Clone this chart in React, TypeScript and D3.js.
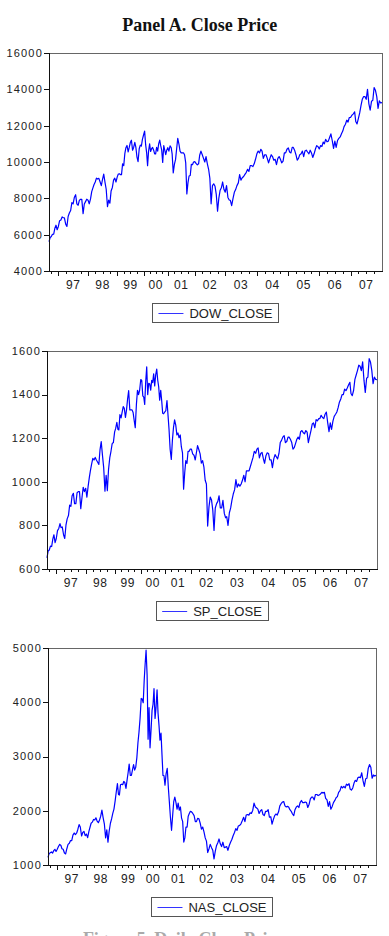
import React from "react";
import * as d3 from "d3";

// trading-day observations per calendar year (1996 is partial, from September)
const sampleYears = [1996, 1997, 1998, 1999, 2000, 2001, 2002, 2003, 2004, 2005, 2006, 2007];
const obsPerYear = [80, 253, 249, 225, 206, 230, 260, 270, 268, 264, 268, 267];
const yearLabels = ["97", "98", "99", "00", "01", "02", "03", "04", "05", "06", "07"];

// closes sampled on the 1st and 16th of each month, Sep 1996 .. Dec 2007, plus the year-end close
const dowClose = [
  5620, 5840, 5900, 6020, 6030, 6350, 6520, 6270,
  6450, 6770, 6810, 6980, 6930, 6930, 6580, 6450, 7000, 7190, 7330, 7770, 7690, 8040, 8200, 7700, 7620, 7890, 7950, 7940, 7160, 7690, 7820, 7950,
  7900, 7700, 7970, 8370, 8550, 8750, 8900, 9110, 9060, 9100, 8900, 8700, 9040, 9330, 8880, 8500, 7540, 7900, 7730, 8400, 8600, 9000, 9110, 8900,
  9180, 9340, 9350, 9300, 9300, 9900, 9800, 10460, 10790, 10910, 10560, 10800, 11070, 11200, 10650, 10800, 11080, 10800, 10270, 10020, 10730, 10930, 10880, 11260,
  11500, 11700, 10940, 10500, 9800, 10600, 11000, 10580, 10730, 10800, 10650, 10450, 10450, 10800, 10600, 11000, 11200, 10900, 10650, 9980, 10900, 10650, 10400, 10650,
  10790, 10600, 10890, 10800, 10450, 9400, 9880, 10130, 10730, 11300, 10990, 10600, 10500, 10500, 10510, 10400, 9950, 8240, 8850, 9230, 9260, 9870, 9850, 10000,
  10020, 9920, 9840, 9900, 10370, 10600, 10400, 10200, 10000, 10300, 9900, 9600, 9100, 7700, 8700, 8800, 8660, 8200, 7290, 8000, 8450, 8580, 8900, 8500,
  8340, 8700, 8050, 7910, 7890, 7600, 8000, 8330, 8480, 8700, 8850, 9300, 9000, 9130, 9200, 9320, 9430, 9600, 9480, 9800, 9800, 9750, 9900, 10150,
  10450, 10600, 10500, 10700, 10600, 10200, 10400, 10400, 10200, 9950, 10200, 10400, 10300, 10100, 10150, 9850, 10200, 10300, 10150, 9950, 10050, 10500, 10500, 10700,
  10780, 10550, 10500, 10800, 10800, 10650, 10400, 10100, 10200, 10400, 10450, 10600, 10300, 10600, 10650, 10550, 10450, 10650, 10500, 10250, 10450, 10700, 10900, 10850,
  10720, 10900, 10860, 11100, 11000, 11250, 11110, 11150, 11350, 11550, 11170, 10750, 11150, 10800, 11180, 11300, 11380, 11550, 11700, 11950, 12080, 12300, 12200, 12450,
  12460, 12580, 12650, 12760, 12230, 12100, 12400, 12700, 13100, 13450, 13600, 13600, 13450, 14000, 13200, 12850, 13350, 13400, 14100, 13950, 13600, 12950, 13370, 13250,
  13265,
];

const spClose = [
  651, 683, 687, 705, 703, 737, 757, 721,
  740, 776, 786, 808, 790, 793, 757, 740, 801, 830, 845, 893, 887, 936, 947, 900, 900, 950, 955, 955, 877, 928, 975, 955,
  970, 930, 980, 1020, 1050, 1080, 1108, 1100, 1112, 1100, 1090, 1080, 1148, 1184, 1120, 1065, 957, 1030, 959, 1056, 1111, 1140, 1175, 1180,
  1229, 1245, 1273, 1240, 1238, 1308, 1293, 1320, 1345, 1337, 1295, 1330, 1380, 1418, 1330, 1330, 1330, 1318, 1282, 1248, 1355, 1420, 1400, 1420,
  1469, 1465, 1394, 1388, 1355, 1458, 1527, 1400, 1452, 1450, 1420, 1465, 1455, 1495, 1440, 1490, 1517, 1467, 1436, 1374, 1420, 1372, 1315, 1312,
  1320, 1326, 1373, 1302, 1241, 1150, 1103, 1190, 1249, 1284, 1260, 1215, 1224, 1202, 1215, 1161, 1133, 966, 1040, 1097, 1084, 1140, 1140, 1150,
  1150, 1128, 1122, 1100, 1131, 1166, 1147, 1128, 1086, 1097, 1067, 1007, 990, 797, 885, 930, 916, 870, 777, 880, 900, 910, 936, 880,
  880, 915, 855, 835, 840, 800, 858, 880, 916, 944, 964, 1010, 975, 990, 980, 990, 1008, 1030, 1000, 1050, 1050, 1050, 1070, 1090,
  1112, 1140, 1131, 1150, 1155, 1110, 1130, 1135, 1107, 1085, 1120, 1133, 1130, 1100, 1101, 1065, 1105, 1125, 1115, 1105, 1130, 1180, 1190, 1205,
  1212, 1180, 1185, 1205, 1205, 1195, 1180, 1150, 1157, 1175, 1195, 1205, 1195, 1230, 1235, 1225, 1220, 1235, 1228, 1180, 1210, 1235, 1265, 1270,
  1248, 1285, 1280, 1290, 1290, 1305, 1295, 1290, 1310, 1320, 1270, 1230, 1270, 1240, 1278, 1300, 1310, 1320, 1340, 1365, 1380, 1400, 1400, 1425,
  1418, 1430, 1445, 1456, 1405, 1395, 1420, 1470, 1490, 1510, 1535, 1530, 1510, 1550, 1465, 1410, 1475, 1480, 1565, 1550, 1510, 1450, 1480, 1470,
  1468,
];

const nasClose = [
  1141, 1210, 1226, 1240, 1220, 1265, 1290, 1250,
  1290, 1340, 1380, 1360, 1300, 1290, 1220, 1205, 1300, 1380, 1400, 1450, 1450, 1550, 1590, 1560, 1590, 1660, 1745, 1700, 1535, 1600, 1620, 1540,
  1570, 1505, 1620, 1700, 1770, 1790, 1840, 1830, 1870, 1810, 1780, 1830, 1900, 2010, 1870, 1760, 1500, 1650, 1420, 1620, 1770, 1850, 1950, 2030,
  2190, 2350, 2500, 2300, 2290, 2480, 2490, 2480, 2540, 2520, 2410, 2560, 2700, 2860, 2650, 2650, 2760, 2850, 2750, 2800, 2980, 3250, 3450, 3700,
  4070, 4060, 3990, 4400, 4690, 4960, 4500, 3320, 3900, 3160, 3500, 3850, 3960, 4250, 3700, 3900, 4230, 3800, 3570, 3300, 3430, 3030, 2650, 2650,
  2470, 2680, 2780, 2430, 2180, 1890, 1640, 1910, 2170, 2250, 2150, 2030, 2140, 2010, 2070, 1870, 1800, 1423, 1500, 1700, 1700, 1900, 1950, 1990,
  1980, 1950, 1910, 1800, 1800, 1860, 1850, 1770, 1660, 1700, 1610, 1500, 1440, 1230, 1300, 1380, 1320, 1270, 1114, 1250, 1360, 1410, 1480, 1390,
  1340, 1420, 1320, 1330, 1340, 1271, 1360, 1420, 1470, 1540, 1600, 1670, 1640, 1720, 1730, 1760, 1820, 1880, 1800, 1920, 1930, 1920, 1960, 1950,
  2010, 2140, 2070, 2050, 2030, 1950, 2000, 2020, 1930, 1910, 1990, 1990, 2020, 1880, 1890, 1752, 1840, 1910, 1940, 1920, 1980, 2090, 2130, 2160,
  2170, 2090, 2070, 2080, 2070, 2020, 1990, 1940, 1910, 2020, 2070, 2090, 2060, 2150, 2190, 2150, 2150, 2160, 2150, 2060, 2120, 2220, 2250, 2250,
  2200, 2300, 2300, 2280, 2290, 2310, 2340, 2330, 2340, 2230, 2200, 2080, 2170, 2030, 2080, 2150, 2190, 2240, 2260, 2340, 2370, 2450, 2420, 2450,
  2420, 2490, 2470, 2500, 2400, 2380, 2420, 2510, 2560, 2540, 2610, 2620, 2610, 2700, 2550, 2450, 2590, 2600, 2780, 2850, 2800, 2600, 2660, 2640,
  2652,
];

const sampleStart = new Date(1996, 8, 1);
const sampleEnd = new Date(2008, 0, 1);
const sampleDates = d3
  .timeMonth.range(sampleStart, sampleEnd)
  .flatMap((m) => [m, new Date(m.getFullYear(), m.getMonth(), 16)])
  .concat([sampleEnd]);

// the x axis counts observations, so years are not equally wide
const yearStarts = [sampleStart, ...sampleYears.slice(1).map((y) => new Date(y, 0, 1)), sampleEnd];
const cumObs = [0, ...Array.from(d3.cumsum(obsPerYear))];
const obsScale = d3.scaleTime<number>().domain(yearStarts).range(cumObs);
const totalObs = cumObs[cumObs.length - 1];

const SANS = "'Liberation Sans', Arial, sans-serif";
const SERIF = "'Liberation Serif', 'Times New Roman', serif";

const panels = [
  { name: "DOW_CLOSE", values: dowClose, yDomain: [4000, 16000], yTicks: d3.range(4000, 16001, 2000), left: 49, right: 382, top: 53, bottom: 271 },
  { name: "SP_CLOSE", values: spClose, yDomain: [600, 1600], yTicks: d3.range(600, 1601, 200), left: 47, right: 377, top: 351, bottom: 569 },
  { name: "NAS_CLOSE", values: nasClose, yDomain: [1000, 5000], yTicks: d3.range(1000, 5001, 1000), left: 48, right: 376, top: 648, bottom: 865 },
];

const measure = (text: string, font: string) => {
  const ctx = document.createElement("canvas").getContext("2d");
  if (!ctx) return text.length * 8;
  ctx.font = font;
  return ctx.measureText(text).width;
};

function Panel({ cfg }: { cfg: (typeof panels)[number] }) {
  const { left, right, top, bottom } = cfg;
  const x = d3.scaleLinear().domain([0, totalObs]).range([left, right]);
  const y = d3.scaleLinear().domain(cfg.yDomain).range([bottom, top]);
  const xd = (d: Date) => x(obsScale(d));

  const pts = sampleDates.map((d, i) => [d, cfg.values[i]] as [Date, number]).filter((p) => p[1] != null);
  const path = d3.line<[Date, number]>().x((p) => xd(p[0])).y((p) => y(p[1]))(pts) || "";

  const majors = yearStarts.slice(1, -1);
  const minors = d3.timeMonth.every(3)!.range(sampleStart, sampleEnd).filter((d) => d.getMonth() !== 0);

  const legendFontSize = 13;
  const textW = measure(cfg.name, `${legendFontSize}px ${SANS}`);
  const boxW = 6 + 25 + 6 + textW + 6;
  const boxX = (left + right) / 2 - boxW / 2;
  const boxY = bottom + 32;

  return (
    <g>
      <rect x={left + 0.5} y={top + 0.5} width={right - left} height={bottom - top} fill="none" stroke="#666" strokeWidth={1} />
      <path d={path} fill="none" stroke="#0000ff" strokeWidth={1.2} strokeLinejoin="round" />
      <line x1={left + 0.5} x2={left + 0.5} y1={top} y2={bottom + 1} stroke="#111" />
      <line x1={left} x2={right + 1} y1={bottom + 0.5} y2={bottom + 0.5} stroke="#111" />
      {cfg.yTicks.map((t) => (
        <g key={t}>
          <line x1={left - 5} x2={left} y1={Math.round(y(t)) + 0.5} y2={Math.round(y(t)) + 0.5} stroke="#111" />
          <text x={left - 6} y={y(t)} dy="0.35em" textAnchor="end" fontFamily={SANS} fontSize={11} letterSpacing={1.2} fill="#222">
            {t}
          </text>
        </g>
      ))}
      {majors.map((d, i) => (
        <line key={"M" + i} x1={Math.round(xd(d)) + 0.5} x2={Math.round(xd(d)) + 0.5} y1={bottom} y2={bottom + 5} stroke="#111" />
      ))}
      {minors.map((d, i) => (
        <line key={"m" + i} x1={Math.round(xd(d)) + 0.5} x2={Math.round(xd(d)) + 0.5} y1={bottom} y2={bottom + 3} stroke="#111" />
      ))}
      {yearLabels.map((lab, i) => {
        const cx = (xd(yearStarts[i + 1]) + xd(yearStarts[i + 2])) / 2;
        return (
          <text key={lab} x={cx} y={bottom + 17.5} textAnchor="middle" fontFamily={SANS} fontSize={12} letterSpacing={0.6} fill="#222">
            {lab}
          </text>
        );
      })}
      <rect x={Math.round(boxX) + 0.5} y={boxY + 0.5} width={Math.round(boxW)} height={19} fill="#fff" stroke="#555" />
      <line x1={boxX + 6} x2={boxX + 31} y1={boxY + 10.5} y2={boxY + 10.5} stroke="#3333ff" strokeWidth={1} />
      <text x={boxX + 37} y={boxY + 15.3} fontFamily={SANS} fontSize={legendFontSize} fill="#222">
        {cfg.name}
      </text>
    </g>
  );
}

export default function App() {
  return (
    <svg width={389} height={936} style={{ position: "absolute", left: 0, top: 0, background: "#fff" }}>
      <text x={199.7} y={31} textAnchor="middle" fontFamily={SERIF} fontWeight="bold" fontSize={18} fill="#111">
        Panel A. Close Price
      </text>
      {panels.map((p) => (
        <Panel key={p.name} cfg={p} />
      ))}
      <text x={83} y={945} textLength={207} lengthAdjust="spacing" fontFamily={SERIF} fontWeight="bold" fontSize={18} fill="#aaa">
        Figure 5. Daily Close Prices
      </text>
    </svg>
  );
}
